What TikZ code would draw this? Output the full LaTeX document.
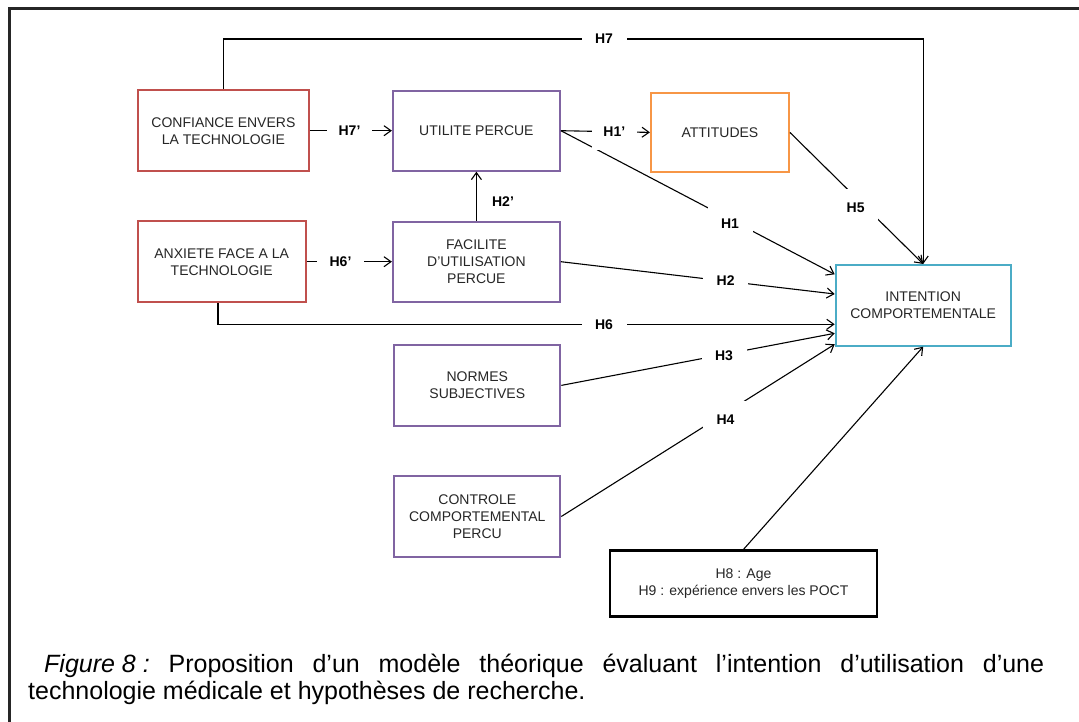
\documentclass[tikz,border=0pt]{standalone}
\usepackage{fontspec}
\setmainfont{Liberation Sans}
\usetikzlibrary{arrows.meta,calc}
\definecolor{cred}{HTML}{C0504D}
\definecolor{cpurple}{HTML}{8064A2}
\definecolor{corange}{HTML}{F79646}
\definecolor{ccyan}{HTML}{4BACC6}
\begin{document}
\begin{tikzpicture}[x=1pt,y=-1pt,
  box/.style={draw, line width=2pt, align=center, inner sep=2pt, text=black!85, font=\fontsize{14}{17}\selectfont},
  arr/.style={line width=1.1pt, -{Straight Barb[length=7pt,width=10pt]}},
  hl/.style={fill=white, font=\fontsize{14}{17}\selectfont\bfseries, minimum width=45pt, minimum height=36pt, inner sep=0pt},
  hlab/.style={font=\fontsize{14}{17}\selectfont\bfseries, inner sep=0pt},
  captxt/.style={anchor=base west, inner sep=0pt, font=\fontsize{25}{28}\selectfont}]
\useasboundingbox (0,0) rectangle (1079,722);
\fill[white] (0,0) rectangle (1079,722);
\draw[line width=2.6pt, black!85, line join=miter] (9.5,722) -- (9.5,8.5) -- (1079,8.5);

% boxes
\node[box, draw=cred, minimum width=171pt, minimum height=81pt] (conf) at (223.4,130.7) {CONFIANCE ENVERS\\LA TECHNOLOGIE};
\node[box, draw=cpurple, minimum width=167pt, minimum height=80pt] (ut) at (476.4,130.7) {UTILITE PERCUE};
\node[box, draw=corange, minimum width=138pt, minimum height=79pt] (att) at (719.9,132.4) {ATTITUDES};
\node[box, draw=cred, minimum width=168pt, minimum height=81pt] (anx) at (221.7,261.7) {ANXIETE FACE A LA\\TECHNOLOGIE};
\node[box, draw=cpurple, minimum width=167pt, minimum height=80pt] (fac) at (476.4,261.7) {FACILITE\\D’UTILISATION\\PERCUE};
\node[box, draw=ccyan, minimum width=175pt, minimum height=80.7pt] (int) at (923.2,305.3) {INTENTION\\COMPORTEMENTALE};
\node[box, draw=cpurple, minimum width=166pt, minimum height=80.7pt] (norm) at (477.3,385.4) {NORMES\\SUBJECTIVES};
\node[box, draw=cpurple, minimum width=166pt, minimum height=81.6pt] (ctrl) at (477.3,516.5) {CONTROLE\\COMPORTEMENTAL\\PERCU};
\node[box, draw=black, line width=2.6pt, minimum width=267pt, minimum height=66pt] (h8) at (743.5,583.7) {H8 : Age\\H9 : expérience envers les POCT};

% connectors
\draw[arr] (conf.east) -- (ut.west);
\draw[arr] (anx.east) -- (fac.west);
\draw[arr] (fac.north) -- (ut.south);
\draw[arr] (ut.east) -- (att.west);
\draw[arr] (ut.east) -- ($(int.west)+(0,-31)$);
\draw[arr] (att.east) -- (int.north);
\draw[arr] (conf.north) |- (604,39) -| (int.north);
\draw[arr] (fac.east) -- ($(int.west)+(0,-11.3)$);
\draw[arr] ($(anx.south)+(-3.7,0)$) |- ($(int.west)+(0,19)$);
\draw[arr] (norm.east) -- ($(int.west)+(0,28)$);
\draw[arr] (ctrl.east) -- ($(int.south west)+(0,-2.4)$);
\draw[arr] (h8.north) -- (int.south);

% labels
\node[hl] (lh7p) at (349.5,130.7) {H7’};
\node[hl, minimum width=47pt] (lh6p) at (340.5,261.7) {H6’};
\node[hlab] (lh2p) at (503,201.7) {H2’};
\node[hl] (lh1p) at (614.3,132) {H1’};
\node[hl] (lh1) at (730,223.3) {H1};
\node[hl] (lh5) at (855.6,207.3) {H5};
\node[hl] (lh7) at (604,39) {H7};
\node[hl] (lh2) at (725.6,281) {H2};
\node[hl] (lh6) at (604,324.3) {H6};
\node[hl] (lh3) at (724,356) {H3};
\node[hl] (lh4) at (725.5,419.3) {H4};

% caption
\node[captxt] (cap1) at (44,672)
  {\makebox[1000pt][s]{\mbox{\textit{Figure 8 :}} Proposition d’un modèle théorique évaluant l’intention d’utilisation d’une}};
\node[captxt] (cap2) at (28,699)
  {technologie médicale et hypothèses de recherche.};
\end{tikzpicture}
\end{document}
